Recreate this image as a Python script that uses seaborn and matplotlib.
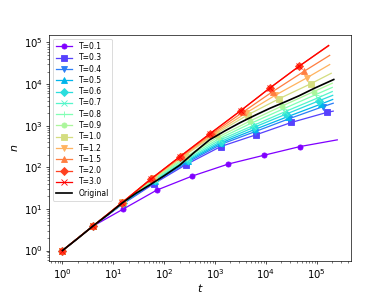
import numpy as np
import matplotlib
matplotlib.use('Agg')
import matplotlib.pyplot as plt
import seaborn as sns

# temperatures, one curve each
temps = ['0.1', '0.3', '0.4', '0.5', '0.6', '0.7', '0.8', '0.9', '1.0', '1.2', '1.5', '2.0', '3.0']

# values (t, n); last point of every curve has no marker
t_01 = [1, 3.89, 15.8, 70.8, 355, 1820, 9120, 46800, 251000]
n_01 = [1, 3.80, 10.0, 28.2, 61.7, 120, 195, 316, 457]

t_03 = [1, 3.89, 15.8, 63.1, 263, 1290, 6310, 31600, 158000, 209000]
n_03 = [1, 3.80, 13.5, 40.7, 115, 316, 603, 1200, 2090, 2240]

t_04 = [1, 3.89, 15.8, 66.1, 295, 1350, 6170, 28800, 132000, 209000]
n_04 = [1, 3.80, 13.8, 44.7, 135, 363, 724, 1480, 2880, 3470]

t_05 = [1, 3.89, 15.8, 66.1, 295, 1320, 6030, 26900, 120000, 204000]
n_05 = [1, 3.80, 14.1, 46.8, 145, 389, 813, 1660, 3310, 4270]

t_06 = [1, 3.89, 15.5, 66.1, 288, 1290, 5750, 25100, 110000, 204000]
n_06 = [1, 3.80, 13.8, 50.1, 151, 417, 912, 1910, 3980, 5370]

t_07 = [1, 3.89, 15.5, 64.6, 282, 1260, 5500, 24000, 105000, 200000]
n_07 = [1, 3.80, 14.1, 50.1, 158, 457, 1000, 2190, 4680, 6610]

t_08 = [1, 3.89, 15.5, 64.6, 275, 1200, 5130, 22400, 95500, 200000]
n_08 = [1, 3.80, 14.1, 52.5, 170, 490, 1150, 2570, 5620, 8320]

t_09 = [1, 3.89, 15.5, 63.1, 263, 1120, 4790, 20400, 87100, 200000]
n_09 = [1, 3.80, 14.5, 53.7, 178, 525, 1290, 2950, 6610, 10500]

t_10 = [1, 3.89, 15.5, 61.7, 251, 1050, 4370, 18200, 75900, 191000]
n_10 = [1, 3.80, 14.5, 55.0, 191, 646, 1820, 4470, 10200, 18200]

t_12 = [1, 3.89, 15.1, 58.9, 234, 955, 3980, 15100, 63100, 178000]
n_12 = [1, 3.80, 14.5, 55.0, 186, 646, 2000, 5370, 14100, 29500]

t_15 = [1, 3.89, 15.1, 57.5, 224, 891, 3550, 13500, 56200, 178000]
n_15 = [1, 3.80, 14.5, 55.0, 191, 661, 2140, 6610, 20400, 49000]

t_20 = [1, 3.89, 14.8, 53.7, 200, 776, 3160, 12000, 44700, 170000]
n_20 = [1, 3.80, 14.1, 51.3, 178, 631, 2290, 8130, 26900, 83200]

t_30 = [1, 3.89, 14.8, 53.7, 200, 776, 3160, 12000, 44700, 170000]
n_30 = [1, 3.80, 14.1, 51.3, 178, 631, 2290, 8130, 26900, 85100]

# original curve (no markers)
t_orig = [1, 2, 3.89, 7.94, 14.8, 28.2, 52.5, 100, 200, 398, 776, 1580,
          3160, 6310, 12000, 22400, 44700, 89100, 214000]
n_orig = [1, 1.95, 3.80, 7.41, 13.8, 24.0, 38.0, 63.1, 112, 234, 457, 759,
          1200, 1820, 2630, 3630, 5250, 7940, 12900]

series_t = [t_01, t_03, t_04, t_05, t_06, t_07, t_08, t_09, t_10, t_12, t_15, t_20, t_30]
series_n = [n_01, n_03, n_04, n_05, n_06, n_07, n_08, n_09, n_10, n_12, n_15, n_20, n_30]

markers = ['o', 's', 'v', '^', 'D', 'x', '+']
colors = plt.cm.rainbow(np.linspace(0, 1, len(temps)))

fig, ax = plt.subplots(figsize=(390 / 61, 293 / 61), dpi=61)

for i, T in enumerate(temps):
    sns.lineplot(x=series_t[i], y=series_n[i], ax=ax, color=colors[i],
                 marker=markers[i % len(markers)], markevery=slice(0, -1),
                 markersize=6, markeredgecolor=colors[i], markeredgewidth=1,
                 linewidth=1.5, label='T=' + T, sort=False)

sns.lineplot(x=t_orig, y=n_orig, ax=ax, color='black', linewidth=2,
             label='Original', sort=False)

ax.set_xscale('log')
ax.set_yscale('log')
ax.set_xlabel('$t$', fontsize=13, labelpad=2)
ax.set_ylabel('$n$', fontsize=13)
ax.tick_params(labelsize=12)
ax.legend(loc='upper left', fontsize=9, handlelength=2.2, labelspacing=0.3)

fig.savefig('out.png', dpi=61)
